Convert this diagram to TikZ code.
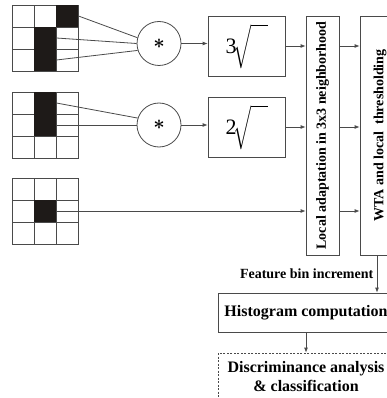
\documentclass[tikz,border=0pt]{standalone}
\usepackage{amsmath}
\usepackage{fontspec}
\setmainfont{Liberation Serif}
\usepackage{graphicx}
\usetikzlibrary{arrows.meta,positioning}
\definecolor{ink}{HTML}{1E1A18}
\definecolor{wire}{HTML}{4A4A4A}
\tikzset{cell/.style={draw=wire,line width=0.9pt,minimum size=22pt,inner sep=0pt},
  op/.style={circle,draw=wire,line width=0.8pt,minimum size=44pt,inner sep=0pt},
  box/.style={draw=wire,line width=0.8pt,inner sep=0pt,align=center},
  lbl/.style={font=\fontsize{14}{16}\selectfont\bfseries},
  flow/.style={-{Latex[length=5pt,width=4pt]},draw=wire,line width=0.8pt},
  wire/.style={draw=wire,line width=0.8pt}}
\newcommand{\rootsign}[1]{\raisebox{15pt}{\fontsize{22}{22}\selectfont #1}\kern-3pt
  \resizebox{34pt}{45pt}{$\sqrt{\rule{0pt}{1.1em}\hspace{0.9em}}$}}

\begin{document}
\begin{tikzpicture}[x=1pt,y=-1pt]
\useasboundingbox (0,0) rectangle (387,398);
\clip (0,0) rectangle (387,398);
% the three 3x3 masks
\foreach \g/\top in {1/5,2/92,3/178} {
 \foreach \r in {0,1,2} {
  \foreach \c in {0,1,2} {
   \node[cell] (g\g-\r-\c) at (23+22*\c,\top+11+22*\r) {};}}}
\foreach \g/\r/\c in {1/0/2,1/1/1,1/2/1,2/0/1,2/1/1,3/1/1} {
 \fill[ink] (g\g-\r-\c.south west) rectangle (g\g-\r-\c.north east);}
% products and roots
\node[op] (c1) at (159,43.5) {\scalebox{2}{$\boldsymbol{\ast}$}};
\node[op] (c2) at (159,125) {\scalebox{2}{$\boldsymbol{\ast}$}};
\node[box,minimum width=77pt,minimum height=60pt] (r1) at (246.5,46) {\rootsign{3}};
\node[box,minimum width=77pt,minimum height=60pt] (r2) at (246.5,127) {\rootsign{2}};
\node[box,lbl,minimum width=33pt,minimum height=239pt] (la) at (322.5,135.5)
  {\rotatebox{90}{Local adaptation in 3x3 neighborhood}};
\node[box,lbl,minimum width=40pt,minimum height=239pt] (wta) at (380,135.5)
  {\rotatebox{90}{WTA and local\ \ thresholding}};
\node[box,font=\fontsize{16}{19}\selectfont\bfseries,minimum width=176pt,minimum height=39pt] (hist) at (306,312.5)
  {Histogram computation};
\node[box,dash pattern=on 2pt off 1.5pt,font=\fontsize{16}{19}\selectfont\bfseries,minimum width=176pt,minimum height=47pt] (disc) at (306,376.5)
  {Discriminance analysis\\ \& classification};
% connectors
\draw[wire] (g1-0-2.east) -- (c1.165);
\draw[wire] (g1-1-1.east) -- (c1.180);
\draw[wire] (g1-2-1.east) -- (c1.198);
\draw[wire] (g2-0-1.east) -- (c2.162);
\draw[wire] (g2-1-1.east) -- (c2.west);
\draw[flow] (c1.east) -- (c1.east -| r1.west);
\draw[flow] (c2.east) -- (c2.east -| r2.west);
\draw[flow] (r1.east) -- (r1.east -| la.west);
\draw[flow] (r2.east) -- (r2.east -| la.west);
\draw[flow] (g3-1-1.east) -- (g3-1-1.east -| la.west);
\draw[flow] (r1.east -| la.east) -- (r1.east -| wta.west);
\draw[flow] (r2.east -| la.east) -- (r2.east -| wta.west);
\draw[flow] (g3-1-1.east -| la.east) -- (g3-1-1.east -| wta.west);
\draw[flow] ([xshift=-3pt]wta.south) -- ([xshift=-3pt]wta.south |- hist.north)
  node[midway,left,lbl] {Feature bin increment};
\draw[flow] (hist.south) -- (disc.north);
\end{tikzpicture}
\end{document}
